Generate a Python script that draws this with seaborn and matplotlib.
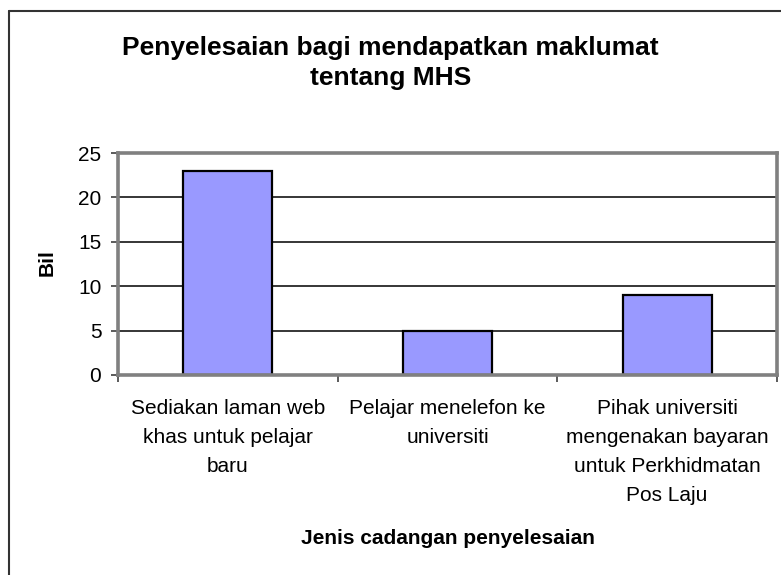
import matplotlib
matplotlib.use('Agg')
import matplotlib.pyplot as plt
from matplotlib.lines import Line2D
import seaborn as sns
import pandas as pd

# ---- data ----
categories = [
    "Sediakan laman web\nkhas untuk pelajar\nbaru",
    "Pelajar menelefon ke\nuniversiti",
    "Pihak universiti\nmengenakan bayaran\nuntuk Perkhidmatan\nPos Laju",
]
values = [23, 5, 9]
yticks = [0, 5, 10, 15, 20, 25]
title = "Penyelesaian bagi mendapatkan maklumat\ntentang MHS"
xlabel = "Jenis cadangan penyelesaian"
ylabel = "Bil"

sns.set_theme(style='white')
plt.rcParams['font.family'] = ['Liberation Sans', 'DejaVu Sans']

W, H = 781, 575
fig = plt.figure(figsize=(W / 100, H / 100), dpi=100)
fig.patch.set_facecolor('white')

ax = fig.add_axes([118 / W, 1 - 375 / H, (777 - 118) / W, (375 - 153) / H])
df = pd.DataFrame({'cat': categories, 'val': values})
sns.barplot(data=df, x='cat', y='val', ax=ax, color='#9999FF', saturation=1,
            edgecolor='black', linewidth=1.6, width=0.405, errorbar=None)

ax.set_xlim(-0.5, len(categories) - 0.5)
ax.set_ylim(0, 25)
ax.set_yticks(yticks)
ax.set_yticklabels([str(v) for v in yticks])
ax.yaxis.grid(True, color='black', linewidth=1.1)
ax.xaxis.grid(False)
ax.set_axisbelow(True)
ax.set_facecolor('white')
for s in ax.spines.values():
    s.set_color('#808080')
    s.set_linewidth(2.6)

ax.tick_params(axis='y', left=True, length=5, width=1.2, color='#404040',
               labelsize=15, pad=7, labelcolor='black')
ax.set_xticks([x - 0.5 for x in range(len(categories) + 1)], minor=True)
ax.tick_params(axis='x', which='minor', bottom=True, length=5, width=1.2, color='#404040')
ax.tick_params(axis='x', which='major', bottom=False, length=0, labelsize=15, pad=17,
               labelcolor='black')
for lbl in ax.get_xticklabels():
    lbl.set_multialignment('center')
    lbl.set_linespacing(1.67)
ax.set_xlabel('')
ax.set_ylabel('')

fig.text(447.5 / W, 1 - 538 / H, xlabel, ha='center', va='center',
         fontsize=15, fontweight='bold', color='black')
fig.text(47 / W, 1 - 263 / H, ylabel, ha='center', va='center', rotation=90,
         fontsize=15, fontweight='bold', color='black')
fig.text(0.5, 1 - 63 / H, title, ha='center', va='center', fontsize=19,
         fontweight='bold', color='black', linespacing=1.3, multialignment='center')

# outer chart border (only left and top are visible in the crop)
fig.add_artist(Line2D([9 / W, 9 / W], [0, 1 - 11 / H], transform=fig.transFigure,
                      color='#333333', linewidth=1.5))
fig.add_artist(Line2D([9 / W, 1], [1 - 11 / H, 1 - 11 / H], transform=fig.transFigure,
                      color='#333333', linewidth=1.5))

fig.savefig('out.png', dpi=100)
